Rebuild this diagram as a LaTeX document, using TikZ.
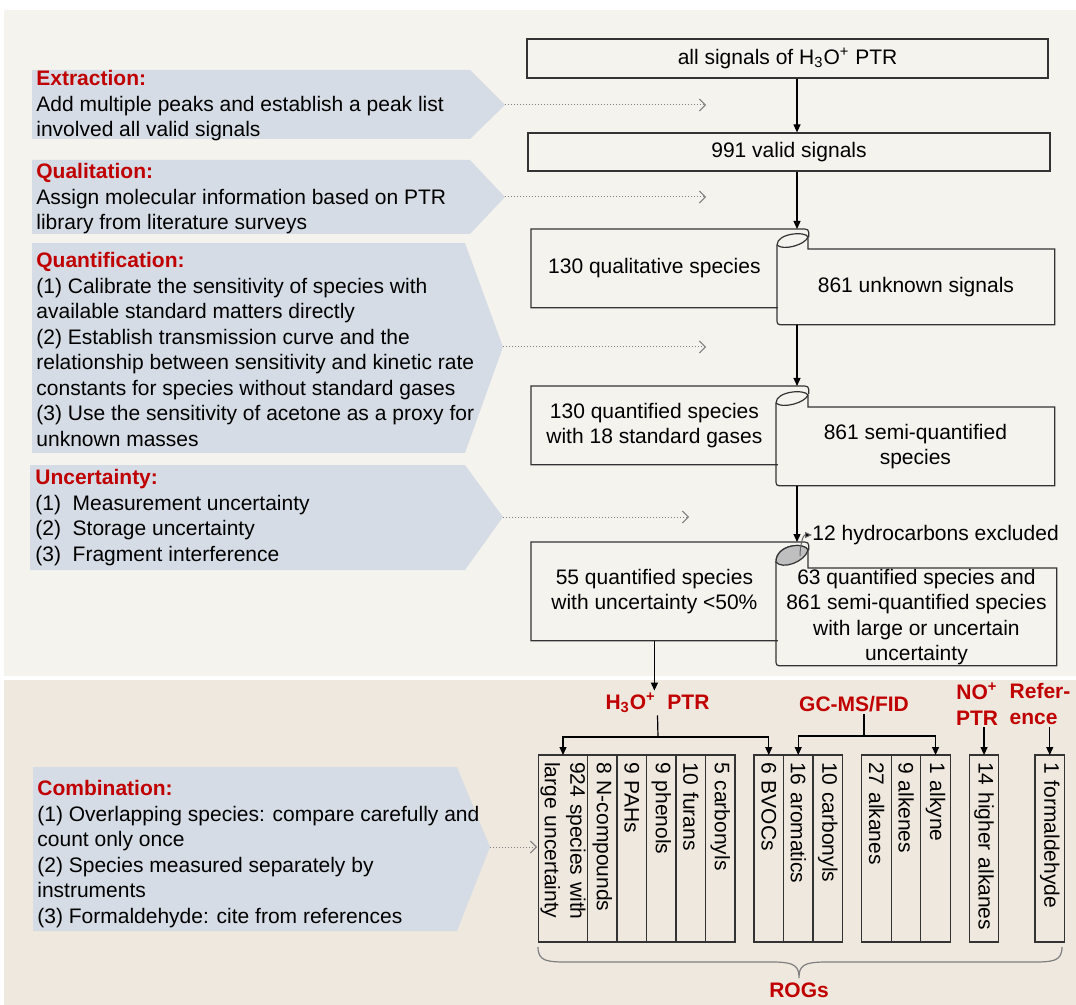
\documentclass[tikz,border=0pt]{standalone}
\usepackage{fontspec}
\setmainfont{Liberation Sans}
\usetikzlibrary{positioning,calc,arrows.meta}

\definecolor{topbg}{HTML}{F4F3EE}
\definecolor{botbg}{HTML}{EEE8DE}
\definecolor{panelbg}{HTML}{D6DCE5}
\definecolor{hlred}{HTML}{C00000}
\definecolor{curlgray}{HTML}{BFBFBF}

\newcommand{\stagename}[1]{\textcolor{hlred}{\bfseries #1}}

\tikzset{
  flowbox/.style={draw=black!80, line width=0.6pt, rectangle, align=center, inner sep=0},
  scrollbox/.style={rectangle, align=center, inner sep=0, anchor=north west},
  scrollline/.style={draw=black!80, line width=0.6pt},
  paneltext/.style={anchor=north west, align=left, inner sep=0},
  stagelabel/.style={text=hlred, font=\bfseries, align=center, inner sep=1pt},
  vbox/.style={draw=black!80, line width=0.6pt, rotate=-90, minimum width=93.5pt,
    minimum height=14.75pt, text width=86.5pt, align=left, inner xsep=3.5pt,
    inner ysep=0, outer sep=0},
  flow/.style={line width=0.6pt, -{Triangle[length=4pt,width=3.5pt]}},
  hint/.style={densely dotted, draw=black!50, line width=0.5pt, -{Straight Barb[length=3pt,width=6pt]}}
}

\begin{document}
\fontsize{10.5}{12.75}\selectfont
\begin{tikzpicture}[x=0.5pt,y=-0.5pt]

% page and the two grounds
\fill[white] (0,0) rectangle (1076,1005);
\useasboundingbox (0,0) rectangle (1076,1005);
\fill[topbg] (4,10) rectangle (1076,676);
\fill[botbg] (4,680) rectangle (1076,1005);

% left hand steps
\fill[panelbg] (32,70) -- (470,70) -- (505,105) -- (470,139) -- (32,139) -- cycle;
\fill[panelbg] (32,160) -- (470,160) -- (505,197) -- (470,234) -- (32,234) -- cycle;
\fill[panelbg] (32,243) -- (465,243) -- (503,347) -- (465,453) -- (32,453) -- cycle;
\fill[panelbg] (30,465) -- (465,465) -- (503,517) -- (465,570) -- (30,570) -- cycle;
\fill[panelbg] (33,767) -- (457,767) -- (490,847) -- (457,931) -- (33,931) -- cycle;

\coordinate (extip) at (505,105);
\coordinate (qltip) at (505,197);
\coordinate (qntip) at (503,347);
\coordinate (untip) at (503,517);
\coordinate (cbtip) at (490,847);

\node[paneltext] (extraction) at (36,70) {\stagename{Extraction:}\\
  Add multiple peaks and establish a peak list\\
  involved all valid signals};

\node[paneltext] (qualitation) at (36,163) {\stagename{Qualitation:}\\
  Assign molecular information based on PTR\\
  library from literature surveys};

\node[paneltext] (quantification) at (36,252) {\stagename{Quantification:}\\
  (1) Calibrate the sensitivity of species with\\
  available standard matters directly\\
  (2) Establish transmission curve and the\\
  relationship between sensitivity and kinetic rate\\
  constants for species without standard gases\\
  (3) Use the sensitivity of acetone as a proxy for\\
  unknown masses};

\node[paneltext] (uncertainty) at (35,469) {\stagename{Uncertainty:}\\
  (1)~~Measurement uncertainty\\
  (2)~~Storage uncertainty\\
  (3)~~Fragment interference};

\node[paneltext] (combination) at (37,780) {\stagename{Combination:}\\
  (1) Overlapping species: compare carefully and\\
  count only once\\
  (2) Species measured separately by\\
  instruments\\
  (3) Formaldehyde: cite from references};

% dotted hints
\coordinate (exend) at (706,105);
\coordinate (qlend) at (706,197);
\coordinate (qnend) at (706,347);
\coordinate (unend) at (689,517);
\coordinate (cbend) at (537,847);
\draw[hint] (extip) -- (exend);
\draw[hint] (qltip) -- (qlend);
\draw[hint] (qntip) -- (qnend);
\draw[hint] (untip) -- (unend);
\draw[hint] (cbtip) -- (cbend);

% flow chart
\coordinate (spine) at (797,0);

\node[flowbox, minimum width=260.5pt, minimum height=19.5pt] (allsig) at (787.5,58.5)
  {all signals of H\textsubscript{3}O\textsuperscript{+} PTR};
\node[flowbox, minimum width=261pt, minimum height=19pt] (valid) at (789,152)
  {991 valid signals};

\node[scrollbox, minimum width=123pt, minimum height=39pt] (qual) at (531,229)
  {130 qualitative species};
\node[scrollbox, minimum width=138.5pt, minimum height=37.5pt] (unk) at (777,249)
  {861 unknown signals};

\node[scrollbox, minimum width=123pt, minimum height=39pt] (quant) at (531,386)
  {130 quantified species\\with 18 standard gases};
\node[scrollbox, minimum width=139pt, minimum height=39pt] (semi) at (776,407)
  {861 semi-quantified\\species};

\node[scrollbox, minimum width=123pt, minimum height=49pt] (unc) at (531,542)
  {55 quantified species\\with uncertainty <50\%};
\node[scrollbox, minimum width=140pt, minimum height=48.5pt] (large) at (776,568)
  {63 quantified species and\\861 semi-quantified species\\with large or uncertain\\uncertainty};

% scroll outlines
\draw[scrollline] (qual.south east) -- (qual.south west) -- (qual.north west)
  -- ([xshift=11.5pt]qual.north east) .. controls ([xshift=15.5pt]qual.north east)
  .. ([xshift=15.5pt,yshift=-4pt]qual.north east);
\draw[scrollline] ([yshift=2pt]unk.north west)
  .. controls ([yshift=8pt]unk.north west) and ([xshift=14.5pt,yshift=9pt]unk.north west)
  .. ([xshift=15.5pt,yshift=6pt]unk.north west) -- ([xshift=15.5pt]unk.north west)
  -- (unk.north east) -- (unk.south east) -- ([xshift=3.5pt]unk.south west)
  .. controls (unk.south west) .. ([yshift=3.5pt]unk.south west) -- cycle;
\draw[scrollline] ([yshift=2pt]unk.north west)
  .. controls ([xshift=3pt,yshift=-1pt]unk.north west) and ([xshift=14pt,yshift=2pt]unk.north west)
  .. ([xshift=15.5pt,yshift=6pt]unk.north west);

\draw[scrollline] (quant.south east) -- (quant.south west) -- (quant.north west)
  -- ([xshift=11.5pt]quant.north east) .. controls ([xshift=15.5pt]quant.north east)
  .. ([xshift=15.5pt,yshift=-4pt]quant.north east);
\draw[scrollline] ([yshift=2pt]semi.north west)
  .. controls ([yshift=8pt]semi.north west) and ([xshift=14.5pt,yshift=9pt]semi.north west)
  .. ([xshift=16pt,yshift=6pt]semi.north west) -- ([xshift=16pt]semi.north west)
  -- (semi.north east) -- (semi.south east) -- ([xshift=3.5pt]semi.south west)
  .. controls (semi.south west) .. ([yshift=3.5pt]semi.south west) -- cycle;
\draw[scrollline] ([yshift=2pt]semi.north west)
  .. controls ([xshift=3pt,yshift=-1pt]semi.north west) and ([xshift=14.5pt,yshift=2pt]semi.north west)
  .. ([xshift=16pt,yshift=6pt]semi.north west);

\draw[scrollline] (unc.south east) -- (unc.south west) -- (unc.north west)
  -- ([xshift=11.5pt]unc.north east) .. controls ([xshift=15.5pt]unc.north east)
  .. ([xshift=15.5pt,yshift=-4pt]unc.north east);
\draw[scrollline] ([yshift=3pt]large.north west)
  .. controls ([yshift=12pt]large.north west) and ([xshift=14.5pt,yshift=13pt]large.north west)
  .. ([xshift=16pt,yshift=9pt]large.north west) -- ([xshift=16pt]large.north west)
  -- (large.north east) -- (large.south east) -- ([xshift=3.5pt]large.south west)
  .. controls (large.south west) .. ([yshift=3.5pt]large.south west) -- cycle;
\draw[scrollline, fill=curlgray] ([yshift=3pt]large.north west)
  .. controls ([yshift=12pt]large.north west) and ([xshift=14.5pt,yshift=13pt]large.north west)
  .. ([xshift=16pt,yshift=9pt]large.north west)
  .. controls ([xshift=14.5pt,yshift=3pt]large.north west) and ([xshift=3pt,yshift=-1pt]large.north west)
  .. ([yshift=3pt]large.north west) -- cycle;

% arrows down the spine
\draw[flow] (allsig.south -| spine) -- (valid.north -| spine);
\draw[flow] (valid.south -| spine) -- (qual.north -| spine);
\draw[flow] (unk.south -| spine) -- (quant.north -| spine);
\draw[flow] (semi.south -| spine) -- (unc.north -| spine);

% excluded part
\node[anchor=west, inner sep=0] (hydro) at (812,535) {12 hydrocarbons excluded};
\coordinate (cut) at (800,556);
\draw[draw=black!60, line width=0.5pt, -{Triangle[length=3.5pt,width=3pt,fill=black]}]
  (cut) to[out=90,in=180] (hydro.west);

% instruments
\node[stagelabel] (h3o) at (657.5,703) {H\textsubscript{3}O\textsuperscript{+}~~PTR};
\node[stagelabel] (gcms) at (854,704) {GC-MS/FID};
\node[stagelabel] (noptr) at (977,704) {NO\textsuperscript{+}\\PTR};
\node[stagelabel, align=left] (refer) at (1040,704) {Refer-\\ence};

\draw[flow] (unc.south) -- (h3o.north -| unc.south);

% species boxes
\node[vbox, minimum height=24.5pt, anchor=south west] (v924) at (538.5,755)
  {924 species with\\large uncertainty};
\node[vbox, anchor=south] (vnit) at (v924.north) {8 N-compounds};
\node[vbox, anchor=south] (vpah) at (vnit.north) {9 PAHs};
\node[vbox, anchor=south] (vphen) at (vpah.north) {9 phenols};
\node[vbox, anchor=south] (vfur) at (vphen.north) {10 furans};
\node[vbox, anchor=south] (vcarb) at (vfur.north) {5 carbonyls};

\node[vbox, anchor=south west] (vbvoc) at (754,755) {6 BVOCs};
\node[vbox, anchor=south] (varom) at (vbvoc.north) {16 aromatics};
\node[vbox, anchor=south] (vgccarb) at (varom.north) {10 carbonyls};

\node[vbox, anchor=south west] (valkane) at (861.8,755) {27 alkanes};
\node[vbox, anchor=south] (valkene) at (valkane.north) {9 alkenes};
\node[vbox, anchor=south] (valkyne) at (valkene.north) {1 alkyne};

\node[vbox, anchor=south west] (vhigh) at (969.3,755) {14 higher alkanes};

\node[vbox, anchor=south west] (vform) at (1035,755) {1 formaldehyde};

% forks
\coordinate (h3ofork) at (658,737);
\coordinate (gcfork) at (864,736);
\draw[line width=0.6pt] (h3o.south) -- (h3ofork);
\draw[flow] (h3ofork) -| (v924.west);
\draw[flow] (h3ofork) -| (vbvoc.west);
\draw[line width=0.6pt] (gcms.south -| gcfork) -- (gcfork);
\draw[flow] (gcfork) -| (varom.west);
\draw[flow] (gcfork) -| (valkyne.west);
\draw[flow] (noptr.south -| vhigh.west) -- (vhigh.west);
\draw[flow] (refer.south -| vform.west) -- (vform.west);

% brace
\draw[draw=black!50, line width=0.6pt] (538,947) .. controls (538,962) and (548,962) .. (570,962)
  -- (772,962) .. controls (795,962) and (799,966) .. (799,978)
  .. controls (799,966) and (803,962) .. (826,962) -- (1030,962)
  .. controls (1052,962) and (1062,962) .. (1062,947);
\node[stagelabel] (rogs) at (799,990) {ROGs};

\end{tikzpicture}
\end{document}
